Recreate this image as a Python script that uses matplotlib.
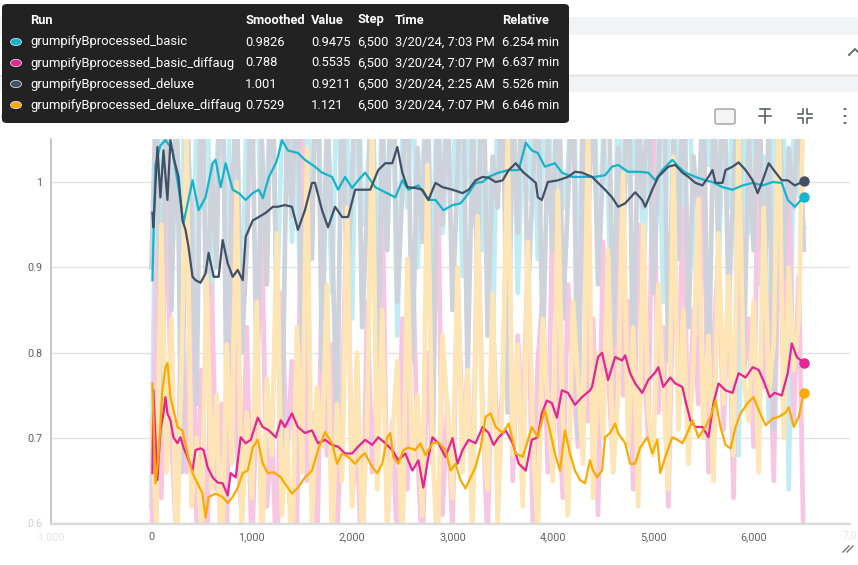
import numpy as np
import matplotlib.pyplot as plt
from matplotlib.patches import FancyBboxPatch, Rectangle, Circle
from matplotlib.lines import Line2D

plt.rcParams['font.family'] = ['Roboto', 'DejaVu Sans']

W, H = 858, 565

runs = ['grumpifyBprocessed_basic', 'grumpifyBprocessed_basic_diffaug',
        'grumpifyBprocessed_deluxe', 'grumpifyBprocessed_deluxe_diffaug']
colors = ['#12b5cb', '#e52592', '#425066', '#f9ab00']
raw_colors = ['#c0edf3', '#f7c6e2', '#cdd2db', '#fde5b6']
smoothed_last = ['0.9826', '0.788', '1.001', '0.7529']
value_last = ['0.9475', '0.5535', '0.9211', '1.121']
step_last = ['6,500', '6,500', '6,500', '6,500']
time_last = ['3/20/24, 7:03 PM', '3/20/24, 7:07 PM', '3/20/24, 2:25 AM', '3/20/24, 7:07 PM']
relative_last = ['6.254 min', '6.637 min', '5.526 min', '6.646 min']

# smoothed curves
basic_steps = [10, 40, 90, 140, 210, 270, 320, 410, 470, 540, 610, 640, 690, 740, 810, 870, 940,
               1010, 1070, 1110, 1170, 1240, 1260, 1300, 1360, 1460, 1530, 1630, 1700, 1800, 1860,
               1930, 2000, 2060, 2130, 2230, 2330, 2430, 2500, 2560, 2660, 2760, 2830, 2910, 3000,
               3080, 3130, 3230, 3300, 3360, 3460, 3560, 3660, 3730, 3790, 3850, 3920, 4020, 4090,
               4190, 4290, 4420, 4520, 4590, 4650, 4750, 4850, 4950, 5020, 5090, 5190, 5250, 5320,
               5420, 5520, 5590, 5690, 5790, 5890, 5990, 6090, 6190, 6280, 6340, 6410, 6500]
basic_vals = [0.885, 1.020, 1.043, 1.049, 1.038, 0.994, 0.952, 1.002, 0.967, 0.982, 1.022, 1.026,
              0.994, 1.022, 0.991, 0.987, 0.979, 0.987, 0.991, 0.981, 1.006, 1.022, 1.029, 1.049,
              1.037, 1.034, 1.026, 1.018, 1.011, 1.006, 0.991, 1.006, 0.993, 1.002, 1.011, 0.994,
              0.988, 0.982, 1.002, 0.991, 0.996, 0.979, 0.979, 0.967, 0.973, 0.975, 0.982, 0.999,
              1.000, 1.006, 1.011, 1.014, 1.014, 1.046, 1.037, 1.034, 1.018, 1.022, 1.011, 1.006,
              1.006, 1.006, 1.008, 1.018, 1.020, 1.012, 1.012, 1.011, 1.002, 1.014, 1.026, 1.018,
              1.011, 1.006, 1.002, 1.000, 0.994, 0.991, 0.996, 0.999, 0.996, 1.000, 0.999, 0.979,
              0.971, 0.9826]

diff_steps = [10, 20, 60, 90, 120, 140, 160, 190, 220, 260, 290, 320, 360, 410, 440, 490, 520, 560,
              610, 660, 710, 760, 790, 840, 890, 940, 990, 1020, 1060, 1110, 1170, 1240, 1290, 1330,
              1400, 1460, 1530, 1600, 1660, 1730, 1800, 1860, 1930, 2000, 2060, 2130, 2200, 2260,
              2330, 2400, 2460, 2530, 2600, 2660, 2710, 2760, 2800, 2860, 2930, 3000, 3050, 3100,
              3160, 3230, 3300, 3360, 3410, 3460, 3530, 3600, 3660, 3730, 3790, 3850, 3890, 3940,
              3990, 4040, 4090, 4150, 4220, 4290, 4370, 4390, 4450, 4490, 4550, 4620, 4690, 4720,
              4770, 4820, 4890, 4950, 5020, 5050, 5100, 5170, 5220, 5290, 5320, 5370, 5420, 5490,
              5550, 5600, 5650, 5720, 5790, 5850, 5920, 5990, 6050, 6110, 6160, 6210, 6280, 6340,
              6380, 6430, 6500]
diff_vals = [0.659, 0.756, 0.651, 0.709, 0.729, 0.748, 0.729, 0.721, 0.701, 0.694, 0.701, 0.689,
             0.678, 0.662, 0.686, 0.688, 0.686, 0.666, 0.654, 0.648, 0.647, 0.633, 0.659, 0.654,
             0.701, 0.694, 0.698, 0.709, 0.724, 0.713, 0.709, 0.701, 0.721, 0.713, 0.729, 0.713,
             0.706, 0.709, 0.694, 0.698, 0.692, 0.690, 0.682, 0.682, 0.690, 0.698, 0.692, 0.701,
             0.694, 0.686, 0.674, 0.682, 0.662, 0.674, 0.642, 0.678, 0.701, 0.694, 0.678, 0.700,
             0.670, 0.686, 0.698, 0.694, 0.713, 0.706, 0.692, 0.701, 0.709, 0.694, 0.670, 0.662,
             0.698, 0.701, 0.729, 0.744, 0.741, 0.724, 0.756, 0.753, 0.739, 0.748, 0.756, 0.760,
             0.795, 0.800, 0.768, 0.795, 0.791, 0.797, 0.776, 0.764, 0.753, 0.768, 0.777, 0.783,
             0.760, 0.771, 0.764, 0.760, 0.744, 0.721, 0.713, 0.713, 0.701, 0.741, 0.764, 0.756,
             0.753, 0.776, 0.771, 0.783, 0.780, 0.764, 0.748, 0.753, 0.750, 0.776, 0.811, 0.795,
             0.788]

deluxe_steps = [10, 20, 60, 90, 120, 160, 190, 220, 270, 310, 340, 370, 410, 440, 490, 540, 570,
                620, 670, 710, 760, 810, 860, 910, 940, 1010, 1070, 1140, 1210, 1260, 1330, 1400,
                1460, 1530, 1600, 1630, 1700, 1760, 1830, 1900, 1960, 2030, 2100, 2180, 2260, 2330,
                2400, 2450, 2500, 2550, 2630, 2700, 2760, 2830, 2900, 3000, 3100, 3160, 3230, 3300,
                3360, 3430, 3500, 3560, 3630, 3700, 3760, 3830, 3850, 3890, 3950, 4050, 4150, 4220,
                4290, 4390, 4450, 4520, 4590, 4650, 4720, 4820, 4890, 4920, 4990, 5050, 5150, 5220,
                5290, 5350, 5420, 5490, 5550, 5590, 5620, 5690, 5720, 5790, 5850, 5920, 5990, 6040,
                6090, 6150, 6220, 6280, 6340, 6410, 6500]
deluxe_vals = [0.964, 0.947, 1.041, 0.982, 1.037, 0.979, 1.049, 1.029, 1.006, 0.955, 0.944, 0.924,
               0.889, 0.885, 0.882, 0.893, 0.917, 0.889, 0.889, 0.932, 0.905, 0.889, 0.897, 0.885,
               0.936, 0.955, 0.959, 0.964, 0.971, 0.971, 0.973, 0.971, 0.944, 0.967, 0.999, 0.999,
               0.967, 0.947, 0.971, 0.959, 0.959, 0.991, 0.991, 0.991, 1.014, 1.022, 1.022, 1.041,
               1.011, 0.994, 0.993, 0.991, 0.979, 0.999, 0.994, 0.991, 0.987, 0.991, 1.002, 1.006,
               1.005, 1.000, 1.002, 1.014, 1.022, 1.012, 1.006, 0.999, 0.982, 0.979, 1.000, 1.002,
               1.006, 1.012, 1.011, 1.006, 0.999, 0.991, 0.982, 0.971, 0.975, 0.988, 0.979, 0.971,
               0.991, 1.006, 1.018, 1.020, 1.011, 1.006, 0.999, 0.996, 1.006, 1.014, 0.999, 0.999,
               1.014, 1.018, 1.023, 1.014, 1.002, 0.987, 1.002, 1.022, 1.011, 1.002, 1.002, 0.996,
               1.001]

ddiff_steps = [10, 40, 70, 110, 140, 160, 190, 220, 260, 310, 360, 410, 460, 510, 540, 570, 640,
               710, 760, 810, 860, 910, 960, 1010, 1060, 1110, 1160, 1220, 1290, 1330, 1400, 1460,
               1530, 1600, 1660, 1730, 1800, 1850, 1900, 1960, 2030, 2100, 2130, 2200, 2250, 2300,
               2350, 2380, 2410, 2460, 2510, 2560, 2630, 2680, 2730, 2800, 2860, 2930, 2980, 3030,
               3080, 3130, 3180, 3230, 3280, 3330, 3380, 3430, 3500, 3560, 3630, 3700, 3760, 3790,
               3850, 3920, 3970, 4020, 4070, 4120, 4170, 4220, 4270, 4320, 4370, 4400, 4440, 4490,
               4520, 4570, 4620, 4650, 4720, 4770, 4820, 4870, 4940, 4990, 5040, 5070, 5120, 5190,
               5240, 5290, 5340, 5390, 5450, 5520, 5570, 5620, 5670, 5720, 5770, 5820, 5870, 5940,
               6000, 6050, 6120, 6190, 6250, 6320, 6350, 6400, 6450, 6500]
ddiff_vals = [0.764, 0.647, 0.678, 0.756, 0.783, 0.788, 0.748, 0.733, 0.713, 0.709, 0.682, 0.659,
              0.647, 0.635, 0.607, 0.631, 0.635, 0.631, 0.624, 0.631, 0.642, 0.659, 0.662, 0.689,
              0.698, 0.670, 0.659, 0.660, 0.654, 0.647, 0.635, 0.642, 0.654, 0.662, 0.686, 0.707,
              0.694, 0.670, 0.682, 0.678, 0.670, 0.680, 0.682, 0.666, 0.659, 0.670, 0.701, 0.706,
              0.678, 0.670, 0.686, 0.689, 0.686, 0.694, 0.680, 0.694, 0.695, 0.686, 0.662, 0.670,
              0.651, 0.641, 0.654, 0.666, 0.689, 0.725, 0.729, 0.713, 0.706, 0.717, 0.682, 0.678,
              0.701, 0.713, 0.701, 0.733, 0.709, 0.682, 0.662, 0.709, 0.682, 0.662, 0.651, 0.647,
              0.674, 0.662, 0.654, 0.662, 0.701, 0.706, 0.717, 0.706, 0.694, 0.670, 0.670, 0.689,
              0.701, 0.682, 0.698, 0.659, 0.678, 0.701, 0.698, 0.694, 0.706, 0.721, 0.701, 0.713,
              0.725, 0.744, 0.713, 0.692, 0.688, 0.713, 0.729, 0.741, 0.748, 0.733, 0.715, 0.723,
              0.725, 0.730, 0.736, 0.713, 0.725, 0.7529]

# raw (unsmoothed) values, logged every 50 steps from 0 to 6,500
basic_raw = [0.62, 1.10, 0.95, 1.18, 0.88, 1.05, 0.92, 1.22, 0.80, 1.08,
             0.97, 1.15, 0.85, 1.02, 1.12, 0.90, 1.20, 0.94, 0.83, 1.09,
             1.01, 1.17, 0.89, 0.99, 1.14, 0.86, 1.06, 1.19, 0.93, 1.03,
             0.78, 1.11, 0.96, 1.16, 0.91, 1.04, 0.87, 1.13, 0.98, 1.07,
             0.84, 1.21, 0.95, 1.00, 1.12, 0.88, 1.09, 0.93, 1.18, 0.82,
             1.05, 0.97, 1.14, 0.90, 1.02, 1.10, 0.86, 1.16, 0.94, 1.03,
             0.99, 1.13, 0.89, 1.08, 0.95, 1.19, 0.92, 1.01, 0.80, 1.11,
             1.04, 0.96, 1.15, 0.87, 1.06, 0.98, 1.12, 0.91, 1.03, 1.17,
             0.85, 1.09, 0.97, 1.02, 1.14, 0.88, 1.07, 0.94, 1.20, 0.90,
             1.05, 0.99, 0.76, 1.13, 0.93, 1.08, 1.01, 1.16, 0.89, 1.04,
             0.96, 1.11, 0.86, 1.06, 1.18, 0.92, 1.00, 1.14, 0.95, 0.83,
             1.09, 1.02, 1.15, 0.90, 1.07, 0.97, 1.12, 0.68, 1.05, 0.94,
             1.17, 0.88, 1.03, 0.72, 1.10, 0.91, 1.06, 0.64, 1.08, 0.99, 0.9475]
diff_raw = [0.55, 0.92, 0.63, 1.05, 0.70, 0.58, 0.85, 0.66, 0.98, 0.60,
            0.78, 0.52, 0.88, 0.64, 0.74, 0.57, 1.02, 0.69, 0.61, 0.83,
            0.56, 0.76, 0.95, 0.62, 0.71, 0.54, 0.87, 0.67, 0.79, 0.59,
            1.08, 0.65, 0.73, 0.55, 0.90, 0.68, 0.81, 0.58, 0.75, 0.97,
            0.63, 0.70, 0.53, 0.86, 0.66, 0.77, 1.00, 0.60, 0.72, 0.57,
            0.84, 0.64, 0.93, 0.69, 0.56, 0.80, 0.67, 1.06, 0.61, 0.74,
            0.59, 0.89, 0.70, 0.78, 0.62, 0.96, 0.73, 0.58, 0.85, 0.68,
            0.76, 1.03, 0.65, 0.82, 0.71, 0.91, 0.60, 0.79, 0.87, 0.66,
            0.99, 0.74, 0.63, 0.88, 0.77, 0.69, 1.10, 0.72, 0.84, 0.61,
            0.93, 0.78, 0.67, 1.01, 0.75, 0.86, 0.64, 0.95, 0.80, 0.70,
            1.07, 0.73, 0.83, 0.62, 0.90, 0.79, 0.97, 0.68, 0.85, 0.74,
            1.04, 0.66, 0.81, 0.92, 0.71, 0.88, 0.63, 0.98, 0.77, 0.84,
            0.69, 1.09, 0.76, 0.87, 0.65, 0.94, 0.80, 1.02, 0.72, 0.89, 0.5535]
deluxe_raw = [0.90, 1.12, 0.70, 1.20, 0.85, 1.15, 0.66, 1.08, 0.95, 0.74,
              1.18, 0.82, 1.02, 0.90, 1.25, 0.72, 0.98, 1.10, 0.80, 0.92,
              1.14, 0.76, 1.05, 0.88, 1.19, 0.84, 0.69, 1.07, 0.96, 1.16,
              0.81, 1.03, 0.91, 1.22, 0.78, 1.09, 0.94, 0.71, 1.13, 0.87,
              1.01, 1.17, 0.83, 0.97, 1.11, 0.75, 1.06, 0.92, 1.20, 0.86,
              0.99, 1.14, 0.79, 1.04, 0.93, 1.18, 0.68, 1.08, 0.95, 1.12,
              0.85, 1.01, 1.16, 0.77, 1.06, 0.90, 1.21, 0.82, 1.03, 0.97,
              1.13, 0.73, 1.09, 0.94, 1.17, 0.86, 1.00, 1.11, 0.80, 1.05,
              0.92, 1.19, 0.84, 0.98, 1.14, 0.70, 1.07, 0.95, 1.12, 0.88,
              1.02, 1.16, 0.81, 1.04, 0.93, 1.20, 0.76, 1.08, 0.97, 1.13,
              0.87, 1.01, 1.15, 0.79, 1.06, 0.91, 1.18, 0.83, 1.03, 0.96,
              1.12, 0.74, 1.09, 0.94, 1.17, 0.85, 1.00, 1.14, 0.78, 1.05,
              0.92, 1.19, 0.82, 1.07, 0.71, 1.13, 0.89, 1.04, 0.97, 1.10, 0.9211]
ddiff_raw = [0.72, 0.60, 0.95, 0.66, 0.84, 0.55, 0.78, 1.06, 0.62, 0.70,
             0.58, 0.89, 0.64, 0.75, 0.52, 0.81, 0.67, 1.00, 0.59, 0.73,
             0.63, 0.86, 0.56, 0.77, 0.68, 0.94, 0.61, 0.71, 0.54, 0.83,
             0.66, 1.04, 0.60, 0.76, 0.69, 0.88, 0.57, 0.74, 0.65, 0.97,
             0.62, 0.80, 0.58, 0.72, 1.08, 0.64, 0.85, 0.59, 0.70, 0.79,
             0.55, 0.91, 0.67, 0.75, 0.61, 1.02, 0.69, 0.57, 0.82, 0.73,
             0.63, 0.90, 0.66, 0.78, 0.58, 0.96, 0.71, 0.64, 0.87, 0.60,
             0.76, 1.05, 0.68, 0.81, 0.62, 0.93, 0.70, 0.59, 0.84, 0.74,
             0.65, 0.99, 0.72, 0.61, 0.86, 0.77, 0.67, 1.07, 0.63, 0.80,
             0.70, 0.92, 0.66, 0.75, 1.01, 0.69, 0.83, 0.62, 0.95, 0.73,
             0.68, 0.88, 0.76, 0.64, 1.03, 0.71, 0.85, 0.67, 0.79, 0.98,
             0.70, 0.82, 0.65, 0.94, 0.74, 0.89, 0.68, 1.06, 0.77, 0.72,
             0.86, 0.66, 0.97, 0.75, 0.81, 1.10, 0.70, 0.90, 0.78, 0.84, 1.121]

smooth = [(basic_steps, basic_vals), (diff_steps, diff_vals),
          (deluxe_steps, deluxe_vals), (ddiff_steps, ddiff_vals)]
raw = [basic_raw, diff_raw, deluxe_raw, ddiff_raw]

xticks = [-1000, 0, 1000, 2000, 3000, 4000, 5000, 6000]
xticklabels = ['-1,000', '0', '1,000', '2,000', '3,000', '4,000', '5,000', '6,000']
yticks = [0.6, 0.7, 0.8, 0.9, 1.0]
yticklabels = ['0.6', '0.7', '0.8', '0.9', '1']


def fx(px):
    return px / W


def fy(py):
    return 1 - py / H


fig = plt.figure(figsize=(W / 100, H / 100), dpi=100)
fig.patch.set_facecolor('white')

ax = fig.add_axes([fx(51), fy(524), (850 - 51) / W, (524 - 139) / H])
ax.set_xlim(-1000, 6960)
ax.set_ylim(0.5994, 1.0504)

for vals, c in zip(raw, raw_colors):
    st = np.linspace(0, 6500, len(vals))
    ax.plot(st, vals, color=c, lw=3.4, zorder=1)

for (st, vals), c in zip(smooth, colors):
    ax.plot(st, vals, color=c, lw=1.6, zorder=3)
    ax.plot(st[-1], vals[-1], 'o', color=c, ms=6.5, zorder=4, clip_on=False)

ax.set_xticks(xticks)
ax.set_xticklabels(xticklabels)
ax.set_yticks(yticks)
ax.set_yticklabels(yticklabels)
ax.tick_params(length=0, labelsize=7.8, labelcolor='#616161', pad=6)
ax.get_xticklabels()[0].set_color('#e6e6e6')
ax.get_yticklabels()[0].set_color('#d0d0d0')
ax.grid(axis='y', color='#e3e3e3', lw=1)
ax.set_axisbelow(True)
for s in ['top', 'right']:
    ax.spines[s].set_visible(False)
ax.spines['left'].set_color('#bdbdbd')
ax.spines['left'].set_linewidth(1.2)
ax.spines['bottom'].set_color('#dadada')
ax.spines['bottom'].set_linewidth(1.6)
fig.text(fx(857), fy(535), '7,0', fontsize=7.8, color='#e6e6e6', ha='right', va='center')

# card header bands behind the tooltip
fig.add_artist(Rectangle((fx(0), fy(35)), 1, (35 - 17) / H, transform=fig.transFigure,
                         facecolor='#f1f3f4', edgecolor='none', zorder=1))
fig.add_artist(Rectangle((fx(0), fy(92)), 1, (92 - 75) / H, transform=fig.transFigure,
                         facecolor='#f1f3f4', edgecolor='none', zorder=1))
fig.add_artist(Line2D([0, 1], [fy(75), fy(75)], transform=fig.transFigure, color='#dcdcdc', lw=1, zorder=2))
fig.add_artist(Line2D([fx(849), fx(855), fx(861)], [fy(55), fy(49), fy(55)], transform=fig.transFigure,
                      color='#5f6368', lw=1.3, zorder=2))

# chart card title and toolbar
fig.text(fx(0), fy(117), 'G/total', fontsize=9.5, color='#212121', ha='left', va='center', zorder=2)
fig.add_artist(FancyBboxPatch((fx(715), fy(124)), 20 / W, 15 / H, boxstyle='round,pad=0,rounding_size=0.003',
                              transform=fig.transFigure, facecolor='#f5f5f5', edgecolor='#9e9e9e', lw=1, zorder=2))
for xs, ys in [([760, 770], [109, 109]), ([765, 765], [109, 123]), ([759, 771], [116, 116])]:
    fig.add_artist(Line2D([fx(v) for v in xs], [fy(v) for v in ys], transform=fig.transFigure,
                          color='#5f6368', lw=1.2, zorder=2))
for sx, sy in [(-1, -1), (1, -1), (-1, 1), (1, 1)]:
    cx, cy = 805 + sx * 2, 116 + sy * 2
    fig.add_artist(Line2D([fx(cx + sx * 5), fx(cx), fx(cx)], [fy(cy), fy(cy), fy(cy + sy * 5)],
                          transform=fig.transFigure, color='#5f6368', lw=1.2, zorder=2))
for dy in [109, 116, 123]:
    fig.add_artist(Circle((fx(845), fy(dy)), 1.6 / W, transform=fig.transFigure,
                          facecolor='#5f6368', edgecolor='none', zorder=2))
for off in [0, 4]:
    fig.add_artist(Line2D([fx(843 + off), fx(849 + off)], [fy(552), fy(546)], transform=fig.transFigure,
                          color='#757575', lw=1, zorder=2))

# hover tooltip
fig.add_artist(FancyBboxPatch((fx(2), fy(123)), 567 / W, 119 / H, boxstyle='round,pad=0,rounding_size=0.006',
                              transform=fig.transFigure, facecolor='#222222', edgecolor='none', zorder=5))
cols = [30, 245, 311, 357, 395, 502]
headers = ['Run', 'Smoothed', 'Value', 'Step', 'Time', 'Relative']
for x, t in zip(cols, headers):
    fig.text(fx(x), fy(20), t, fontsize=9.3, fontweight='bold', color='white', ha='left', va='center', zorder=6)
row_y = [42, 63, 84, 105]
for i in range(4):
    y = row_y[i]
    fig.add_artist(Circle((fx(16), fy(y)), 5.5 / W, transform=fig.transFigure,
                          facecolor=colors[i], edgecolor='#dddddd', lw=0.6, zorder=6))
    row = [runs[i], smoothed_last[i], value_last[i], step_last[i], time_last[i], relative_last[i]]
    for j, (x, t) in enumerate(zip(cols, row)):
        fig.text(fx(x), fy(y), t, fontsize=9.4 if j == 0 else 9.3, color='white',
                 ha='left', va='center', zorder=6)

fig.savefig('out.png', dpi=100)
